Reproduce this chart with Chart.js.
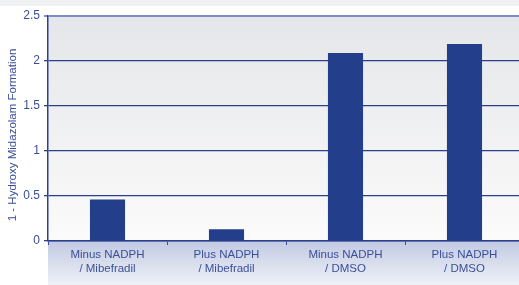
<!DOCTYPE html>
<html>
<head>
<meta charset="utf-8">
<script src="https://cdn.jsdelivr.net/npm/chart.js@4/dist/chart.umd.min.js"></script>
<style>
  html, body { margin: 0; padding: 0; background: #fff; overflow: hidden; }
  #wrap { width: 524px; height: 285px; }
</style>
</head>
<body>
<div id="wrap"><canvas id="chart" width="524" height="285"></canvas></div>
<script>
const categories = [
  ["Minus NADPH", "/ Mibefradil"],
  ["Plus NADPH", "/ Mibefradil"],
  ["Minus NADPH", "/ DMSO"],
  ["Plus NADPH", "/ DMSO"]
];
const formation = [0.46, 0.13, 2.09, 2.19];
const yTitle = "1 - Hydroxy Midazolam Formation";

const textBlue = "#3b4f98";
const navy = "#233e8b";
const family = "'Liberation Sans', Arial, sans-serif";

const backdrop = {
  id: "backdrop",
  beforeDraw(chart) {
    const { ctx, chartArea: a, width, height } = chart;
    ctx.save();
    ctx.fillStyle = "#ffffff";
    ctx.fillRect(0, 0, width, height);
    ctx.fillStyle = "#f0f1f3";
    ctx.fillRect(0, 0, width, 6);
    let g = ctx.createLinearGradient(0, a.top, 0, a.bottom);
    g.addColorStop(0, "#e5e6e9");
    g.addColorStop(1, "#fbfbfb");
    ctx.fillStyle = g;
    ctx.fillRect(a.left, a.top, a.right - a.left, a.bottom - a.top);
    g = ctx.createLinearGradient(0, a.bottom, 0, height);
    g.addColorStop(0, "#c2cae3");
    g.addColorStop(1, "#eff1f7");
    ctx.fillStyle = g;
    ctx.fillRect(a.left, a.bottom, a.right - a.left, height - a.bottom);
    ctx.restore();
  },
  afterDraw(chart) {
    // y title sits a bit below the axis centre in the original
    const { ctx } = chart;
    ctx.save();
    ctx.translate(13, 135);
    ctx.rotate(-Math.PI / 2);
    ctx.fillStyle = textBlue;
    ctx.font = "11.5px " + family;
    ctx.textAlign = "center";
    ctx.textBaseline = "middle";
    ctx.fillText(yTitle, 0, 0);
    ctx.restore();
  }
};

new Chart(document.getElementById("chart"), {
  type: "bar",
  data: {
    labels: categories,
    datasets: [{
      data: formation,
      backgroundColor: navy,
      borderWidth: 0,
      barPercentage: 0.295,
      categoryPercentage: 1
    }]
  },
  options: {
    responsive: false,
    animation: false,
    layout: { padding: { top: 16, right: 0, left: 0, bottom: 0 } },
    plugins: { legend: { display: false }, tooltip: { enabled: false } },
    scales: {
      x: {
        offset: true,
        grid: {
          offset: true,
          drawOnChartArea: false,
          drawTicks: true,
          tickLength: 4,
          color: "#3a4d96",
          lineWidth: 1
        },
        border: { color: "#2b3f8c", width: 1.5 },
        ticks: {
          color: textBlue,
          font: { family, size: 11.5 },
          padding: 3,
          maxRotation: 0
        },
        afterFit(scale) { scale.height = 44; }
      },
      y: {
        min: 0,
        max: 2.5,
        ticks: {
          stepSize: 0.5,
          color: textBlue,
          font: { family, size: 12 },
          padding: 4,
          callback: (v) => String(v)
        },
        grid: {
          color: (c) => c.tick && c.tick.value === 2.5 ? "#7d8cc6" : "#2b3f8c",
          lineWidth: (c) => c.tick && c.tick.value === 2.5 ? 2 : 1.3,
          tickLength: 4
        },
        border: { color: "#2b3f8c", width: 1.5 },
        afterFit(scale) { scale.width = 48; }
      }
    }
  },
  plugins: [backdrop]
});
</script>
</body>
</html>
